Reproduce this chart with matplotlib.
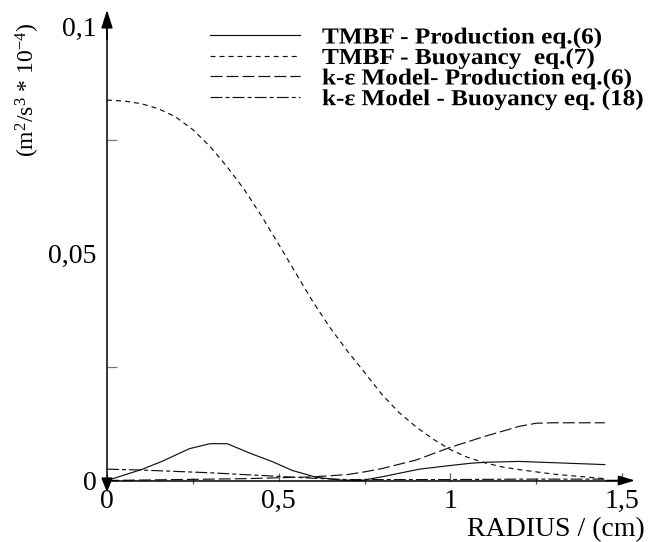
import matplotlib
matplotlib.use("Agg")
import matplotlib.pyplot as plt
import matplotlib.transforms as mtransforms
from matplotlib.patheffects import AbstractPathEffect
from matplotlib.ticker import FixedLocator, FixedFormatter

plt.rcParams['font.family'] = ['Liberation Serif', 'DejaVu Serif']
plt.rcParams['mathtext.fontset'] = 'custom'
plt.rcParams['mathtext.rm'] = 'Liberation Serif'
plt.rcParams['mathtext.it'] = 'Liberation Serif'
plt.rcParams['lines.scale_dashes'] = False

# ---------------- data ----------------
tmbf_prod_x = [0, 0.05, 0.1, 0.16, 0.24, 0.30, 0.35, 0.42, 0.48, 0.54, 0.61, 0.68, 0.74,
               0.8, 0.91, 1.0, 1.06, 1.1, 1.2, 1.45]
tmbf_prod_y = [0, 0.0012, 0.0024, 0.0042, 0.0070, 0.0081, 0.0081, 0.0059, 0.0042, 0.0022,
               0.0007, 0.0001, 0.0, 0.0008, 0.0025, 0.0033, 0.0038, 0.0040, 0.0042, 0.0035]

tmbf_buoy_x = [0, 0.05, 0.1, 0.15, 0.2, 0.25, 0.3, 0.35, 0.4, 0.45, 0.5, 0.55, 0.6, 0.65,
               0.7, 0.75, 0.8, 0.85, 0.9, 0.95, 1.0, 1.05, 1.1, 1.15, 1.2, 1.3, 1.45]
tmbf_buoy_y = [0.0837, 0.0835, 0.0829, 0.0818, 0.0800, 0.0772, 0.0735, 0.0690, 0.0640,
               0.0582, 0.0520, 0.0456, 0.0393, 0.0336, 0.0285, 0.0238, 0.0190, 0.0150,
               0.0118, 0.0091, 0.0068, 0.0051, 0.0039, 0.0030, 0.0024, 0.0014, 0.0004]

ke_prod_x = [0, 0.1, 0.2, 0.3, 0.4, 0.5, 0.6, 0.7, 0.75, 0.8, 0.9, 1.0, 1.1, 1.2, 1.25, 1.3, 1.45]
ke_prod_y = [0, 0.0001, 0.0002, 0.0003, 0.0004, 0.0006, 0.0008, 0.0013, 0.0019, 0.0026,
             0.0045, 0.0073, 0.0097, 0.0119, 0.0126, 0.0127, 0.0127]

ke_buoy_x = [0, 0.1, 0.2, 0.3, 0.4, 0.5, 0.6, 0.7, 0.8, 1.0, 1.2, 1.45]
ke_buoy_y = [0.0025, 0.0023, 0.0020, 0.0017, 0.0013, 0.0009, 0.0005, 0.0002, 0.0002,
             0.0002, 0.0003, 0.0003]

labels = ["TMBF - Production eq.(6)",
          "TMBF - Buoyancy  eq.(7)",
          "k-\u03b5 Model- Production eq.(6)",
          "k-\u03b5 Model - Buoyancy eq. (18)"]

x_ticks = [0, 0.5, 1, 1.5]
x_tick_labels = ["0", "0,5", "1", "1,5"]
y_ticks = [0, 0.05, 0.1]
y_tick_labels = ["0", "0,05", "0,1"]


class HStretch(AbstractPathEffect):
    """Stretch text horizontally about a fixed display x (mimics wide letter spacing)."""
    def __init__(self, sx, x0):
        super().__init__()
        self.sx = sx
        self.x0 = x0

    def draw_path(self, renderer, gc, tpath, affine, rgbFace=None):
        aff = affine + mtransforms.Affine2D().translate(-self.x0, 0).scale(self.sx, 1).translate(self.x0, 0)
        renderer.draw_path(gc, tpath, aff, rgbFace)


# ---------------- figure ----------------
W, H = 655, 542
fig = plt.figure(figsize=(W / 100, H / 100), dpi=100)
ax = fig.add_axes([107 / W, (H - 480.5) / H, 515 / W, 454.5 / H])
ax.set_xlim(0, 1.5)
ax.set_ylim(0, 0.1)

lw = 0.85
styles = [dict(linestyle='-'),
          dict(linestyle=(0, (3.6, 2.9))),
          dict(linestyle=(0, (8.6, 2.9))),
          dict(linestyle=(0, (8.6, 2.2, 2.9, 2.2)))]
series = [(tmbf_prod_x, tmbf_prod_y), (tmbf_buoy_x, tmbf_buoy_y),
          (ke_prod_x, ke_prod_y), (ke_buoy_x, ke_buoy_y)]
for (xs, ys), st in zip(series, styles):
    ax.plot(xs, ys, color='#111111', lw=lw, clip_on=False, **st)

# spines
for s in ['top', 'right']:
    ax.spines[s].set_visible(False)
for s in ['left', 'bottom']:
    ax.spines[s].set_linewidth(1.1)
    ax.spines[s].set_color('black')

# ticks
ax.xaxis.set_major_locator(FixedLocator(x_ticks))
ax.xaxis.set_major_formatter(FixedFormatter(x_tick_labels))
ax.xaxis.set_minor_locator(FixedLocator([0.25, 0.75, 1.25]))
ax.tick_params(axis='x', which='major', direction='in', length=6, width=0.9,
               color='#555555', labelsize=20, pad=6)
ax.tick_params(axis='x', which='minor', direction='inout', length=5, width=0.9,
               color='#555555')

ax.yaxis.set_major_locator(FixedLocator(y_ticks))
ax.yaxis.set_major_formatter(FixedFormatter(y_tick_labels))
ax.yaxis.set_minor_locator(FixedLocator([0.025, 0.05, 0.075]))
ax.tick_params(axis='y', which='major', direction='in', length=0, labelsize=20, pad=7.5)
ax.tick_params(axis='y', which='minor', direction='in', length=7.2, width=0.9,
               color='#777777')

# axis arrows
yt = mtransforms.offset_copy(ax.transAxes, fig=fig, x=0, y=16, units='dots')
ax.annotate('', xy=(0, 1), xycoords=yt, xytext=(0, 0.97), textcoords='axes fraction',
            arrowprops=dict(arrowstyle='-|>,head_length=1.1,head_width=0.35',
                            color='black', lw=1.1, shrinkA=0, shrinkB=0))
xt = mtransforms.offset_copy(ax.transAxes, fig=fig, x=13, y=0, units='dots')
ax.annotate('', xy=(1, 0), xycoords=xt, xytext=(0.97, 0), textcoords='axes fraction',
            arrowprops=dict(arrowstyle='-|>,head_length=1.0,head_width=0.3',
                            color='black', lw=1.1, shrinkA=0, shrinkB=0))
dt = mtransforms.offset_copy(ax.transAxes, fig=fig, x=0, y=-12, units='dots')
ax.annotate('', xy=(0, 0), xycoords=dt, xytext=(0, 0.0), textcoords='axes fraction',
            arrowprops=dict(arrowstyle='-|>,head_length=0.9,head_width=0.35',
                            color='black', lw=1.0, shrinkA=0, shrinkB=0))

# axis labels
ax.set_ylabel(r'(m$^{2}$/s$^{3}$ * 10$^{-4}$)', fontsize=17)
ax.yaxis.set_label_coords((28 - 107) / 515, (480.5 - 90) / 454.5)
ax.yaxis.label.set_va('center')
ax.set_xlabel('RADIUS / (cm)', fontsize=20)
ax.xaxis.set_label_coords((556 - 107) / 515, (480.5 - 536) / 454.5)
ax.xaxis.label.set_va('baseline')

# legend (manual, matching the original layout)
row_y = [35, 55.5, 76, 96.7]
for lab, st, ry in zip(labels, styles, row_y):
    fig.add_artist(plt.Line2D([210 / W, 300 / W], [(H - ry) / H] * 2,
                              color='#111111', lw=lw, transform=fig.transFigure, **st))
    fig.text(322 / W, (H - ry - 8.5) / H, lab, fontsize=16.5, fontweight='bold',
             ha='left', va='baseline', path_effects=[HStretch(1.1, 322)])

fig.savefig('out.png', dpi=100)
